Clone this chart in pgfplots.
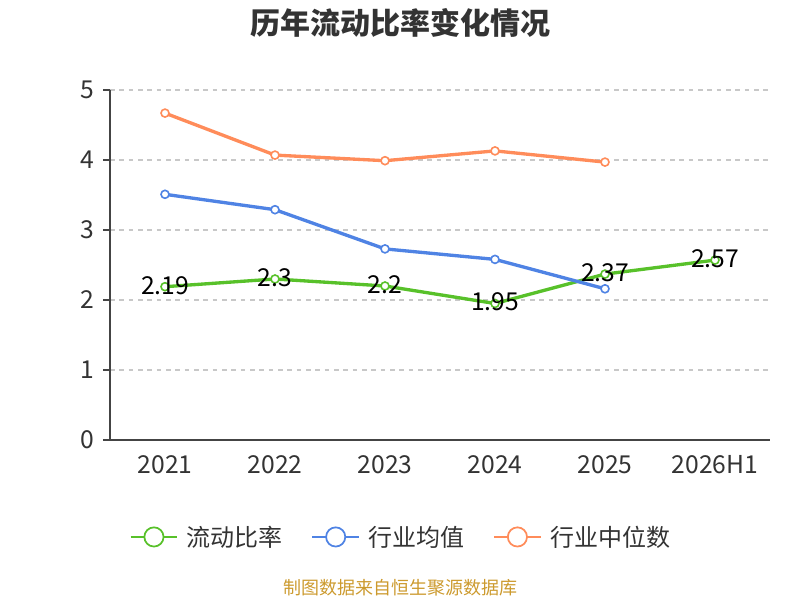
\documentclass[border=0pt]{standalone}
\usepackage{pgfplots}
\pgfplotsset{compat=1.18}
\usepackage{fontspec}
\setmainfont{Noto Sans CJK SC}
\definecolor{cgreen}{HTML}{58C12A}
\definecolor{cblue}{HTML}{4F83E4}
\definecolor{corange}{HTML}{FF8C5A}
\definecolor{ctext}{HTML}{333333}
\definecolor{caxis}{HTML}{444444}
\definecolor{cgrid}{HTML}{C8C8C8}
\definecolor{csrc}{HTML}{CC9A2E}
\begin{document}
\begin{tikzpicture}
\path[use as bounding box] (0,0) rectangle (600pt,450pt);
\node[font=\fontsize{22.5}{26}\selectfont\bfseries, text=ctext] at (300pt,433pt) {历年流动比率变化情况};
\node[font=\fontsize{13.5}{15}\selectfont, text=csrc] at (300pt,9.5pt) {制图数据来自恒生聚源数据库};
\begin{axis}[
  at={(82.5pt,120pt)}, anchor=south west,
  scale only axis, width=495pt, height=262.5pt,
  xmin=-0.5, xmax=5.5, ymin=0, ymax=5,
  axis x line=bottom, axis y line=left,
  axis line style={-, caxis, line width=0.9pt},
  xtick={0,1,2,3,4,5},
  xticklabels={2021,2022,2023,2024,2025,2026H1},
  x tick style={draw=none},
  extra x ticks={-0.5,0.5,1.5,2.5,3.5,4.5,5.5},
  extra x tick labels={},
  extra x tick style={tick style={draw=caxis, line width=0.9pt}, major tick length=5pt, tick align=outside, grid=none},
  ytick={0,1,2,3,4,5},
  y tick style={draw=caxis, line width=0.9pt},
  major tick length=5pt, tick align=outside,
  ymajorgrids, grid style={cgrid, dash pattern=on 3.5pt off 3.5pt, line width=0.8pt},
  tick label style={font=\fontsize{18.5}{20}\selectfont, text=ctext},
  xticklabel style={yshift=-3pt},
  yticklabel style={xshift=-3pt},
  /pgf/number format/assume math mode=true,
  clip=false,
  legend columns=3,
  legend style={at={(0.446,-0.277)}, anchor=center, draw=none, fill=none,
    font=\fontsize{18}{20}\selectfont, text=ctext,
    nodes={inner xsep=6.5pt},
    /tikz/every even column/.append style={column sep=15pt}},
  legend cell align=left,
  legend image code/.code={
    \draw[line width=1.3pt] (0pt,0pt) -- (35pt,0pt);
    \draw[line width=1.3pt, fill=white] (17.5pt,0pt) circle (7.2pt);
  },
]
\addplot[cgreen, line width=2.5pt, mark=*, mark size=3pt,
  mark options={fill=white, draw=cgreen, line width=1.2pt},
  nodes near coords, point meta=explicit symbolic,
  every node near coord/.append style={anchor=center, yshift=1pt, text=black, font=\fontsize{18.5}{20}\selectfont}]
  table[meta=label] {
x y label
0 2.19 2.19
1 2.30 2.3
2 2.20 2.2
3 1.95 1.95
4 2.37 2.37
5 2.57 2.57
};
\addlegendentry{流动比率}
\addplot[cblue, line width=2.5pt, mark=*, mark size=3pt,
  mark options={fill=white, draw=cblue, line width=1.2pt}]
  coordinates {(0,3.51) (1,3.29) (2,2.73) (3,2.58) (4,2.16)};
\addlegendentry{行业均值}
\addplot[corange, line width=2.5pt, mark=*, mark size=3pt,
  mark options={fill=white, draw=corange, line width=1.2pt}]
  coordinates {(0,4.67) (1,4.07) (2,3.99) (3,4.13) (4,3.97)};
\addlegendentry{行业中位数}
\end{axis}
\end{tikzpicture}
\end{document}
